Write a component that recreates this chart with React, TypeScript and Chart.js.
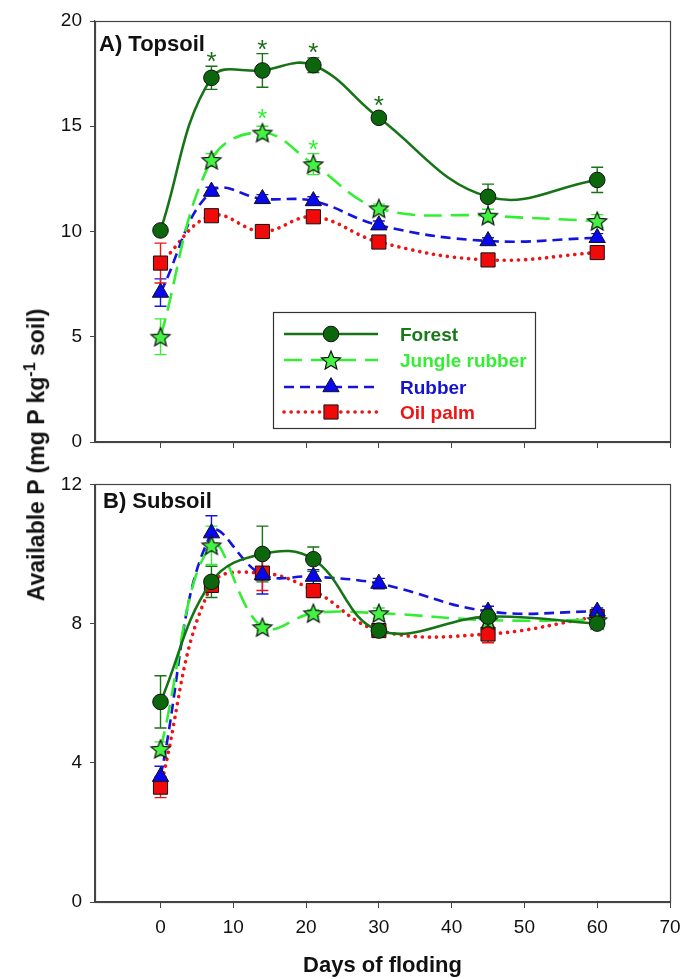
import React, { useEffect, useRef } from 'react';
import { Chart, registerables } from 'chart.js';
Chart.register(...registerables);

// ---------- data ----------
const days = [0, 7, 14, 21, 30, 45, 60];
const xTickValues = [0, 10, 20, 30, 40, 50, 60, 70];
const topTickValues = [0, 5, 10, 15, 20];
const subTickValues = [0, 4, 8, 12];
const seriesNames = ['Forest', 'Jungle rubber', 'Rubber', 'Oil palm'];

// A) Topsoil
const forestTop = [10.05, 17.3, 17.65, 17.9, 15.4, 11.65, 12.45];
const forestTopErr = [0.2, 0.55, 0.8, 0.35, 0.2, 0.6, 0.6];
const jungleTop = [5.0, 13.4, 14.7, 13.2, 11.1, 10.75, 10.5];
const jungleTopErr = [0.85, 0.3, 0.3, 0.5, 0.2, 0.3, 0.3];
const rubberTop = [7.1, 11.9, 11.55, 11.45, 10.3, 9.55, 9.7];
const rubberTopErr = [0.65, 0.2, 0.2, 0.2, 0.2, 0.15, 0.2];
const oilTop = [8.5, 10.75, 10.0, 10.7, 9.5, 8.65, 9.0];
const oilTopErr = [0.95, 0.2, 0.2, 0.2, 0.2, 0.15, 0.2];
const forestTopSig = [false, true, true, true, true, false, false];
const jungleTopSig = [false, false, true, true, false, false, false];

// B) Subsoil
const forestSub = [5.75, 9.2, 10.0, 9.85, 7.8, 8.2, 8.0];
const forestSubErr = [0.75, 0.45, 0.8, 0.35, 0.1, 0.1, 0.1];
const jungleSub = [4.4, 10.25, 7.9, 8.3, 8.3, 8.1, 8.1];
const jungleSubErr = [0.2, 0.55, 0.1, 0.1, 0.15, 0.15, 0.1];
const rubberSub = [3.6, 10.6, 9.4, 9.35, 9.15, 8.35, 8.35];
const rubberSubErr = [0.3, 0.5, 0.55, 0.2, 0.15, 0.15, 0.1];
const oilSub = [3.3, 9.1, 9.45, 8.95, 7.8, 7.7, 8.2];
const oilSubErr = [0.3, 0.2, 0.5, 0.2, 0.15, 0.25, 0.15];

// ---------- styles ----------
const FONT = '"Liberation Sans", Arial, sans-serif';
const lineColors = ['#167316', '#33ee33', '#1414dd', '#ee1414'];
const fillColors = ['#0c660c', '#44f244', '#0808f0', '#f00a0a'];
const textColors = ['#177a17', '#33ee33', '#1414d0', '#ee1414'];
const lineWidths = [2.6, 2.6, 2.6, 3.6];
const dashes: number[][] = [[], [18, 9], [10, 6], [0.1, 7]];
const radii = [7.8, 10, 9.4, 10];
const AXIS = '#444';

function makeStar(fill: string, R: number) {
  const c = document.createElement('canvas');
  const size = Math.ceil(2 * R + 4);
  c.width = size;
  c.height = size;
  const ctx = c.getContext('2d')!;
  const cx = size / 2;
  const cy = size / 2 + R * 0.1;
  const r = R * 0.45;
  ctx.beginPath();
  for (let i = 0; i < 10; i++) {
    const a = -Math.PI / 2 + (i * Math.PI) / 5;
    const rr = i % 2 === 0 ? R : r;
    const px = cx + rr * Math.cos(a);
    const py = cy + rr * Math.sin(a);
    if (i === 0) ctx.moveTo(px, py);
    else ctx.lineTo(px, py);
  }
  ctx.closePath();
  ctx.fillStyle = fill;
  ctx.fill();
  ctx.lineWidth = 1.2;
  ctx.strokeStyle = '#111';
  ctx.stroke();
  return c;
}

type PanelCfg = {
  values: number[][];
  errs: number[][];
  sig: { series: number; flags: boolean[] }[];
  title: string;
  titleX: number;
  titleY: number;
  legend: boolean;
  star: HTMLCanvasElement;
};

function makePanelPlugin(cfg: PanelCfg) {
  return {
    id: 'panelExtras',
    beforeDatasetsDraw(chart: any) {
      const { ctx } = chart;
      const xs = chart.scales.x;
      const ys = chart.scales.y;
      ctx.save();
      cfg.values.forEach((vals, i) => {
        ctx.strokeStyle = lineColors[i];
        ctx.lineWidth = 1.4;
        ctx.setLineDash([]);
        vals.forEach((v, j) => {
          const e = cfg.errs[i][j];
          const x = xs.getPixelForValue(days[j]);
          const yt = ys.getPixelForValue(v + e);
          const yb = ys.getPixelForValue(v - e);
          ctx.beginPath();
          ctx.moveTo(x, yt);
          ctx.lineTo(x, yb);
          ctx.moveTo(x - 6, yt);
          ctx.lineTo(x + 6, yt);
          ctx.moveTo(x - 6, yb);
          ctx.lineTo(x + 6, yb);
          ctx.stroke();
        });
      });
      ctx.restore();
    },
    afterDraw(chart: any) {
      const { ctx, chartArea } = chart;
      const xs = chart.scales.x;
      const ys = chart.scales.y;
      ctx.save();
      // frame
      ctx.strokeStyle = AXIS;
      ctx.lineWidth = 1.2;
      ctx.setLineDash([]);
      ctx.strokeRect(
        Math.round(chartArea.left) + 0.5,
        Math.round(chartArea.top) + 0.5,
        Math.round(chartArea.right - chartArea.left),
        Math.round(chartArea.bottom - chartArea.top)
      );
      // panel title
      ctx.fillStyle = '#111';
      ctx.font = 'bold 22px ' + FONT;
      ctx.textAlign = 'left';
      ctx.textBaseline = 'alphabetic';
      ctx.fillText(cfg.title, cfg.titleX, cfg.titleY);
      // significance asterisks
      ctx.font = '26px ' + FONT;
      ctx.textAlign = 'center';
      cfg.sig.forEach(({ series, flags }) => {
        ctx.fillStyle = series === 0 ? '#1a6e1a' : '#33ee33';
        flags.forEach((f, j) => {
          if (!f) return;
          const v = cfg.values[series][j];
          const e = cfg.errs[series][j];
          const x = xs.getPixelForValue(days[j]);
          const top = Math.min(ys.getPixelForValue(v + e), ys.getPixelForValue(v) - radii[series]);
          const yc = top - 11;
          ctx.fillText('*', x, yc + 15);
        });
      });
      // legend
      if (cfg.legend) {
        const bx = 273, by = 312, bw = 262, bh = 116;
        ctx.strokeStyle = '#333';
        ctx.lineWidth = 1.2;
        ctx.strokeRect(bx + 0.5, by + 0.5, bw, bh);
        const rows = [334, 360, 387, 412];
        rows.forEach((ry, i) => {
          ctx.strokeStyle = lineColors[i];
          ctx.lineWidth = lineWidths[i];
          ctx.setLineDash(dashes[i]);
          ctx.lineCap = i === 3 ? 'round' : 'butt';
          ctx.beginPath();
          ctx.moveTo(284, ry);
          ctx.lineTo(378, ry);
          ctx.stroke();
          ctx.setLineDash([]);
          ctx.lineCap = 'butt';
          const mx = 331;
          ctx.fillStyle = fillColors[i];
          ctx.strokeStyle = '#111';
          ctx.lineWidth = 1;
          if (i === 0) {
            ctx.beginPath();
            ctx.arc(mx, ry, radii[0], 0, Math.PI * 2);
            ctx.fill();
            ctx.stroke();
          } else if (i === 1) {
            ctx.drawImage(cfg.star, mx - cfg.star.width / 2, ry - cfg.star.height / 2);
          } else if (i === 2) {
            const r = radii[2];
            ctx.beginPath();
            ctx.moveTo(mx, ry - r);
            ctx.lineTo(mx + r * 0.866, ry + r / 2);
            ctx.lineTo(mx - r * 0.866, ry + r / 2);
            ctx.closePath();
            ctx.fill();
            ctx.stroke();
          } else {
            const s = radii[3] * Math.SQRT1_2;
            ctx.beginPath();
            ctx.rect(mx - s, ry - s, 2 * s, 2 * s);
            ctx.fill();
            ctx.stroke();
          }
          ctx.fillStyle = textColors[i];
          ctx.font = 'bold 19px ' + FONT;
          ctx.textAlign = 'left';
          ctx.textBaseline = 'alphabetic';
          ctx.fillText(seriesNames[i], 400, ry + 7);
        });
      }
      ctx.restore();
    },
  };
}

function buildChart(
  canvas: HTMLCanvasElement,
  cfg: PanelCfg,
  yMax: number,
  yTicks: number[],
  padTop: number,
  xAxisHeight: number,
  showXLabels: boolean
) {
  const datasets = cfg.values.map((vals, i) => ({
    label: seriesNames[i],
    data: days.map((d, j) => ({ x: d, y: vals[j] })),
    borderColor: lineColors[i],
    backgroundColor: fillColors[i],
    borderWidth: lineWidths[i],
    borderDash: dashes[i],
    borderCapStyle: i === 3 ? 'round' : 'butt',
    pointStyle: i === 1 ? cfg.star : ['circle', 'star', 'triangle', 'rect'][i],
    pointRadius: radii[i],
    pointBackgroundColor: fillColors[i],
    pointBorderColor: '#111',
    pointBorderWidth: 1,
    tension: 0.4,
    fill: false,
  }));
  return new Chart(canvas, {
    type: 'line',
    data: { datasets: datasets as any },
    plugins: [makePanelPlugin(cfg) as any],
    options: {
      animation: false,
      responsive: false,
      events: [],
      layout: { padding: { left: 0, right: 0, top: padTop, bottom: 0 } },
      plugins: { legend: { display: false }, tooltip: { enabled: false } },
      scales: {
        x: {
          type: 'linear',
          min: -9,
          max: 70,
          afterBuildTicks: (s: any) => {
            s.ticks = xTickValues.map((v) => ({ value: v }));
          },
          afterFit: (s: any) => {
            s.height = xAxisHeight;
            s.paddingRight = 11;
            s.paddingLeft = 0;
          },
          grid: { drawOnChartArea: false, drawTicks: true, tickLength: 6, color: AXIS, lineWidth: 1 },
          border: { display: true, color: AXIS, width: 1.2 },
          ticks: {
            display: showXLabels,
            color: '#111',
            font: { family: FONT, size: 19 },
            padding: 8,
            maxRotation: 0,
          },
          title: {
            display: showXLabels,
            text: 'Days of floding',
            color: '#111',
            font: { family: FONT, size: 22, weight: 'bold' },
            padding: { top: 0, bottom: 0 },
          },
        },
        y: {
          type: 'linear',
          min: 0,
          max: yMax,
          afterBuildTicks: (s: any) => {
            s.ticks = yTicks.map((v) => ({ value: v }));
          },
          afterFit: (s: any) => {
            s.width = 95;
          },
          grid: { drawOnChartArea: false, drawTicks: true, tickLength: 5, color: AXIS, lineWidth: 1 },
          border: { display: true, color: AXIS, width: 1.2 },
          ticks: {
            color: '#111',
            font: { family: FONT, size: 19 },
            padding: 8,
          },
        },
      },
    } as any,
  });
}

export default function App() {
  const topRef = useRef<HTMLCanvasElement>(null);
  const subRef = useRef<HTMLCanvasElement>(null);

  useEffect(() => {
    document.body.style.margin = '0';
    const star = makeStar(fillColors[1], 10);
    const topCfg: PanelCfg = {
      values: [forestTop, jungleTop, rubberTop, oilTop],
      errs: [forestTopErr, jungleTopErr, rubberTopErr, oilTopErr],
      sig: [
        { series: 0, flags: forestTopSig },
        { series: 1, flags: jungleTopSig },
      ],
      title: 'A) Topsoil',
      titleX: 99,
      titleY: 51,
      legend: true,
      star,
    };
    const subCfg: PanelCfg = {
      values: [forestSub, jungleSub, rubberSub, oilSub],
      errs: [forestSubErr, jungleSubErr, rubberSubErr, oilSubErr],
      sig: [],
      title: 'B) Subsoil',
      titleX: 103,
      titleY: 43,
      legend: false,
      star,
    };
    const c1 = buildChart(topRef.current!, topCfg, 20, topTickValues, 21, 28, false);
    const c2 = buildChart(subRef.current!, subCfg, 12, subTickValues, 16, 77, true);
    return () => {
      c1.destroy();
      c2.destroy();
    };
  }, []);

  return (
    <div style={{ position: 'relative', width: 681, height: 979, overflow: 'hidden' }}>
      <canvas
        ref={topRef}
        width={681}
        height={470}
        style={{ position: 'absolute', left: 0, top: 0, display: 'block' }}
      />
      <canvas
        ref={subRef}
        width={681}
        height={514}
        style={{ position: 'absolute', left: 0, top: 465, display: 'block' }}
      />
      <div
        style={{
          position: 'absolute',
          left: 35,
          top: 455,
          transform: 'translate(-50%, -50%) rotate(-90deg)',
          whiteSpace: 'nowrap',
          font: 'bold 23px "Liberation Sans", Arial, sans-serif',
          color: '#111',
        }}
      >
        Available P (mg P kg<sup style={{ fontSize: '0.7em' }}>-1</sup> soil)
      </div>
    </div>
  );
}
